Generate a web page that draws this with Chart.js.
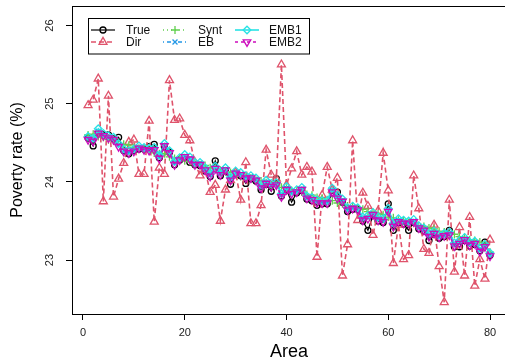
<!DOCTYPE html>
<html><head><meta charset="utf-8">
<script src="https://cdn.jsdelivr.net/npm/chart.js@4"></script>
<style>html,body{margin:0;padding:0;overflow:hidden;background:#fff}#wrap{width:512px;height:361px}</style>
</head><body><div id="wrap"><canvas id="c" width="512" height="361"></canvas></div>
<script>
const areas = Array.from({length: 80}, (_, i) => i + 1);
const xTicks = [0, 20, 40, 60, 80];
const yTicks = [23, 24, 25, 26];

const trueVals = [24.56,24.46,24.62,24.60,24.60,24.55,24.57,24.40,24.36,24.40,24.42,24.42,24.45,24.48,24.31,24.45,24.38,24.22,24.28,24.31,24.25,24.22,24.21,24.14,24.07,24.27,24.08,24.14,23.97,24.10,24.08,23.98,24.04,24.01,23.90,23.97,23.88,24.04,23.82,23.90,23.74,23.86,23.89,23.78,23.76,23.70,23.72,23.72,23.86,23.87,23.74,23.62,23.65,23.65,23.50,23.38,23.57,23.50,23.48,23.72,23.38,23.48,23.46,23.38,23.48,23.40,23.37,23.25,23.33,23.28,23.30,23.38,23.17,23.17,23.25,23.18,23.20,23.12,23.23,23.06];
const dirVals = [24.98,25.05,25.32,23.75,25.10,23.81,24.04,24.24,24.51,24.54,24.10,24.10,24.78,23.49,24.18,24.10,25.30,24.79,24.81,24.60,24.53,24.25,24.08,24.15,23.87,23.96,23.50,23.90,24.02,24.12,23.77,24.25,23.47,23.47,23.70,24.41,24.09,24.04,25.50,23.96,24.17,24.39,24.09,24.19,24.13,23.04,23.83,24.19,23.90,24.05,22.80,23.20,24.53,23.51,23.86,23.69,23.32,23.63,24.37,23.89,22.96,23.45,23.01,23.06,24.08,23.66,23.14,23.09,23.45,22.92,22.46,23.77,22.85,23.42,22.80,23.55,22.67,23.01,22.76,23.26];
const syntVals = [24.60,24.61,24.58,24.57,24.54,24.53,24.49,24.48,24.47,24.44,24.43,24.41,24.40,24.37,24.36,24.36,24.32,24.30,24.30,24.27,24.26,24.23,24.22,24.21,24.18,24.17,24.15,24.13,24.12,24.10,24.07,24.06,24.05,24.02,24.01,23.99,23.96,23.96,23.93,23.92,23.89,23.88,23.87,23.84,23.83,23.80,23.79,23.77,23.76,23.73,23.72,23.69,23.69,23.66,23.65,23.62,23.61,23.59,23.58,23.55,23.54,23.51,23.51,23.48,23.47,23.44,23.43,23.41,23.40,23.37,23.36,23.33,23.33,23.30,23.29,23.26,23.25,23.23,23.20,23.10];
const ebVals = [24.56,24.54,24.65,24.60,24.58,24.55,24.47,24.40,24.38,24.41,24.44,24.42,24.42,24.42,24.32,24.47,24.38,24.24,24.29,24.33,24.30,24.23,24.24,24.16,24.09,24.18,24.11,24.16,24.04,24.12,24.10,24.06,24.07,24.03,23.94,24.00,23.96,23.97,23.83,23.92,23.86,23.88,23.91,23.80,23.78,23.75,23.74,23.74,23.89,23.81,23.76,23.65,23.67,23.65,23.53,23.55,23.59,23.53,23.51,23.64,23.45,23.51,23.49,23.48,23.50,23.42,23.39,23.32,23.35,23.30,23.32,23.34,23.20,23.23,23.27,23.21,23.22,23.13,23.18,23.07];
const emb1Vals = [24.58,24.56,24.68,24.62,24.59,24.57,24.49,24.42,24.40,24.42,24.46,24.44,24.43,24.44,24.34,24.49,24.40,24.26,24.31,24.35,24.32,24.25,24.25,24.18,24.11,24.20,24.13,24.18,24.06,24.14,24.12,24.08,24.08,24.05,23.96,24.02,23.98,23.99,23.85,23.94,23.88,23.90,23.93,23.82,23.80,23.77,23.76,23.76,23.92,23.83,23.78,23.67,23.69,23.67,23.55,23.57,23.61,23.55,23.53,23.66,23.47,23.53,23.51,23.50,23.52,23.44,23.41,23.34,23.37,23.32,23.34,23.36,23.22,23.25,23.29,23.23,23.24,23.15,23.20,23.09];
const emb2Vals = [24.54,24.52,24.62,24.59,24.56,24.54,24.45,24.39,24.37,24.39,24.43,24.41,24.40,24.41,24.30,24.46,24.37,24.22,24.28,24.32,24.29,24.22,24.22,24.15,24.07,24.17,24.09,24.15,24.02,24.11,24.09,24.05,24.05,24.02,23.92,23.98,23.94,23.96,23.81,23.90,23.85,23.87,23.90,23.79,23.77,23.73,23.73,23.73,23.87,23.79,23.75,23.64,23.66,23.64,23.51,23.53,23.58,23.51,23.49,23.62,23.43,23.49,23.47,23.47,23.49,23.41,23.38,23.30,23.34,23.29,23.31,23.32,23.18,23.21,23.26,23.19,23.21,23.11,23.17,23.05];

const FONT = '"Liberation Sans", Arial, Helvetica, sans-serif';

function mk(label, vals, color, pStyle, pRot, pRad, dash, bw, order) {
  return {
    label, order,
    data: areas.map((a, i) => ({x: a, y: vals[i]})),
    borderColor: color, borderWidth: bw, borderDash: dash,
    pointStyle: pStyle, pointRotation: pRot, pointRadius: pRad,
    pointBorderColor: color, pointBackgroundColor: 'rgba(0,0,0,0)',
    pointBorderWidth: 1.3, tension: 0, fill: false
  };
}

const datasets = [
  mk('True', trueVals, '#000000', 'circle', 0, 3, [], 1.2, 5),
  mk('Dir', dirVals, '#DF536B', 'triangle', 0, 4.6, [5, 3], 1.6, 4),
  mk('Synt', syntVals, '#61D04F', 'cross', 0, 4, [1, 3], 1.5, 3),
  mk('EB', ebVals, '#2297E6', 'crossRot', 0, 3.5, [1, 3, 4, 3], 1.5, 2),
  mk('EMB1', emb1Vals, '#28E2E5', 'rectRot', 0, 3.8, [], 1.6, 1),
  mk('EMB2', emb2Vals, '#CD0BBC', 'triangle', 180, 4.4, [3, 3], 1.6, 0)
];

const framePlugin = {
  id: 'frame',
  afterDraw(chart) {
    const {ctx, chartArea: a} = chart;
    ctx.save();
    ctx.strokeStyle = '#000'; ctx.lineWidth = 1;
    ctx.strokeRect(Math.round(a.left) + 0.5, Math.round(a.top) + 0.5, a.right - a.left, a.bottom - a.top);
    const ys = chart.scales.y;
    ctx.fillStyle = '#222';
    ctx.font = '11px ' + FONT;
    ctx.textAlign = 'center'; ctx.textBaseline = 'middle';
    yTicks.forEach(v => {
      const py = ys.getPixelForValue(v);
      ctx.save(); ctx.translate(50, py); ctx.rotate(-Math.PI / 2);
      ctx.fillText(String(v), 0, 0); ctx.restore();
    });
    const lx = 88.5, ly = 18.5, lw = 221, lh = 35.5;
    ctx.fillStyle = '#fff'; ctx.fillRect(lx, ly, lw, lh);
    ctx.strokeStyle = '#000'; ctx.lineWidth = 1; ctx.strokeRect(lx, ly, lw, lh);
    const cols = [91, 163, 235], texts = [126, 198, 269], rows = [30, 42];
    const pos = [[0,0],[0,1],[1,0],[1,1],[2,0],[2,1]];
    ctx.font = '12px ' + FONT; ctx.textAlign = 'left'; ctx.textBaseline = 'middle';
    datasets.forEach((d, i) => {
      const [c, r] = pos[i];
      const x0 = cols[c], x1 = x0 + 24, y = rows[r];
      ctx.save();
      ctx.strokeStyle = d.borderColor; ctx.lineWidth = d.borderWidth;
      ctx.setLineDash(d.borderDash);
      ctx.beginPath(); ctx.moveTo(x0, y); ctx.lineTo(x1, y); ctx.stroke();
      ctx.setLineDash([]);
      ctx.fillStyle = d.pointBackgroundColor; ctx.lineWidth = 1.3;
      Chart.helpers.drawPoint(ctx, {pointStyle: d.pointStyle, radius: d.pointRadius, rotation: d.pointRotation, borderWidth: 1.3}, (x0 + x1) / 2, y);
      ctx.restore();
      ctx.fillStyle = '#111';
      ctx.fillText(d.label, texts[c], y + 0.5);
    });
    ctx.restore();
  }
};

new Chart(document.getElementById('c'), {
  type: 'line',
  data: {datasets},
  options: {
    responsive: false, animation: false, devicePixelRatio: 1,
    layout: {padding: {left: 0, top: 6, right: 4, bottom: 0}},
    plugins: {legend: {display: false}, tooltip: {enabled: false}},
    scales: {
      x: {
        type: 'linear', min: -2.16, max: 83.16,
        afterBuildTicks: s => { s.ticks = xTicks.map(v => ({value: v})); },
        afterFit: s => { s.height = 47; },
        grid: {display: true, drawOnChartArea: false, drawTicks: true, tickLength: 6, color: '#000', lineWidth: 1},
        border: {display: false},
        ticks: {font: {size: 11, family: FONT}, color: '#222', padding: 6, maxRotation: 0, autoSkip: false},
        title: {display: true, text: 'Area', color: '#000', font: {size: 18, family: FONT, lineHeight: 1}, padding: 0}
      },
      y: {
        type: 'linear', min: 22.31, max: 26.25,
        afterBuildTicks: s => { s.ticks = yTicks.map(v => ({value: v})); },
        afterFit: s => { s.width = 72; },
        grid: {display: true, drawOnChartArea: false, drawTicks: true, tickLength: 6, color: '#000', lineWidth: 1},
        border: {display: false},
        ticks: {display: false},
        title: {display: true, text: 'Poverty rate (%)', color: '#000', font: {size: 16, family: FONT, lineHeight: 1}, padding: {top: 10, bottom: 0}}
      }
    }
  },
  plugins: [framePlugin]
});
</script></body></html>
